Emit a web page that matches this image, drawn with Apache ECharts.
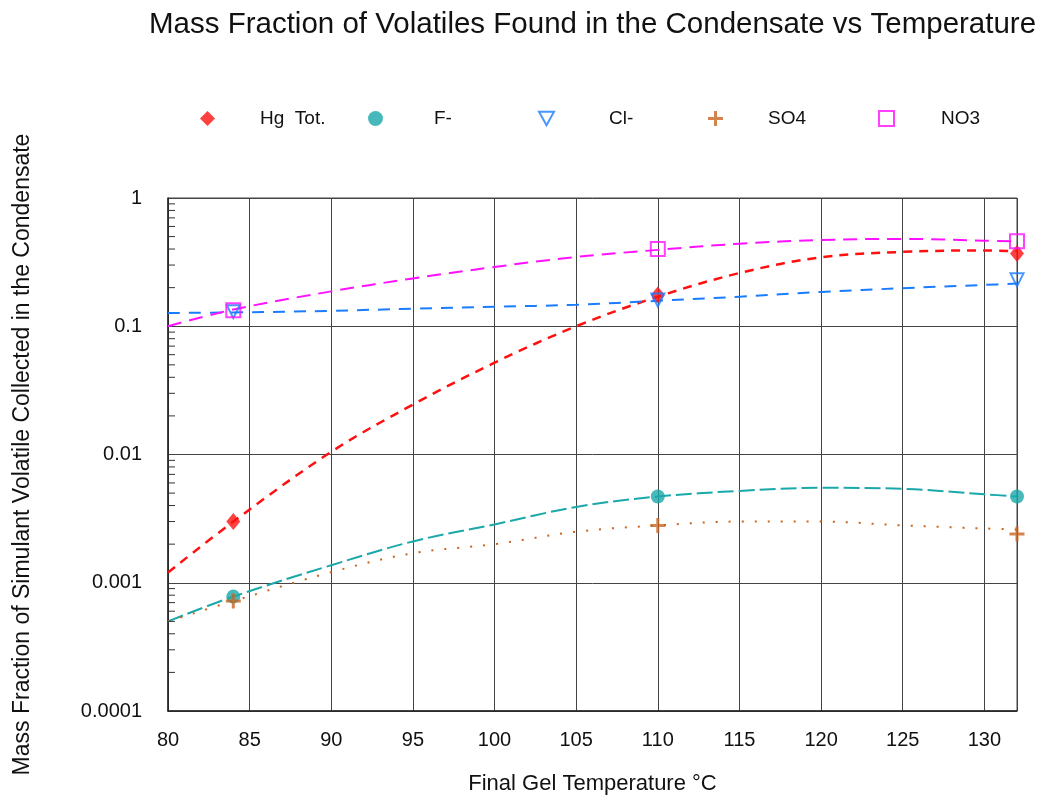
<!DOCTYPE html>
<html>
<head>
<meta charset="utf-8">
<title>Mass Fraction of Volatiles Found in the Condensate vs Temperature</title>
<script src="https://cdn.jsdelivr.net/npm/echarts@6/dist/echarts.min.js"></script>
<style>
  html, body { margin: 0; padding: 0; background: #ffffff; }
  #chart { width: 1041px; height: 800px; }
</style>
</head>
<body>
<div id="chart"></div>
<script>
// Measured points (final gel temperature °C, mass fraction)
const hgPoints  = [[84, 0.003],   [110, 0.175],  [132, 0.37]];
const fPoints   = [[84, 0.00078], [110, 0.0047], [132, 0.0047]];
const clPoints  = [[84, 0.13],    [110, 0.16],   [132, 0.23]];
const so4Points = [[84, 0.00072], [110, 0.0028], [132, 0.0024]];
const no3Points = [[84, 0.133],   [110, 0.40],   [132, 0.46]];

// Fitted trend curves, sampled along the temperature range
const fitTemps = [80, 84, 90, 95, 100, 105, 110, 115, 120, 125, 130, 132];
const hgFit  = [0.0012, 0.003, 0.0105, 0.0245, 0.052, 0.1, 0.17, 0.26, 0.345, 0.38, 0.39, 0.385];
const fFit   = [0.0005, 0.00078, 0.00137, 0.0021, 0.00285, 0.0039, 0.0047, 0.0052, 0.0055, 0.0054, 0.0049, 0.0047];
const clFit  = [0.127, 0.128, 0.132, 0.137, 0.142, 0.147, 0.158, 0.17, 0.185, 0.198, 0.21, 0.215];
const so4Fit = [0.0005, 0.00072, 0.00121, 0.0017, 0.002, 0.0025, 0.0028, 0.003, 0.003, 0.0028, 0.00265, 0.0026];
const no3Fit = [0.1, 0.135, 0.187, 0.236, 0.29, 0.347, 0.394, 0.44, 0.47, 0.48, 0.465, 0.46];

// Log-axis minor tick positions (2..9 within each decade)
const minorTickValues = [];
[0.0001, 0.001, 0.01, 0.1].forEach(function (d) {
  for (let k = 2; k <= 9; k++) minorTickValues.push(+(d * k).toPrecision(3));
});

const FONT = 'Liberation Sans';
const colors = {
  hg: '#ff1010',
  f: '#1aa8aa',
  cl: '#1a7cff',
  so4: '#c8641e',
  no3: '#ff10ff'
};

const plusPath = 'path://M4,0H6V4H10V6H6V10H4V6H0V4H4Z';
const downTriangle = 'path://M0,0L10,0L5,9Z';

function pair(xs, ys) { return xs.map(function (x, i) { return [x, ys[i]]; }); }

function fitSeries(name, values, color, dash, width) {
  return {
    name: name,
    type: 'line',
    data: pair(fitTemps, values),
    smooth: 0.35,
    showSymbol: false,
    silent: true,
    lineStyle: { color: color, width: width, type: dash },
    z: 2
  };
}

function legendAt(name, left, textPad) {
  return {
    data: [name],
    left: left,
    top: 104,
    itemWidth: 15,
    itemHeight: 15,
    textStyle: { fontFamily: FONT, fontSize: 19, color: '#111', padding: [0, 0, 0, textPad] },
    selectedMode: false
  };
}

const chart = echarts.init(document.getElementById('chart'), null, { renderer: 'canvas' });

chart.setOption({
  backgroundColor: '#ffffff',
  animation: false,
  title: {
    text: 'Mass Fraction of Volatiles Found in the Condensate vs Temperature',
    left: 144,
    top: 5,
    textStyle: { fontFamily: FONT, fontSize: 29.5, fontWeight: 'normal', color: '#111' }
  },
  legend: [
    legendAt('Hg  Tot.', 195, 40),
    legendAt('F-', 363, 46),
    legendAt('Cl-', 533, 50),
    legendAt('SO4', 703, 40),
    legendAt('NO3', 873, 42)
  ],
  grid: {
    left: 168,
    right: 24,
    top: 198,
    bottom: 88,
    show: true,
    borderColor: '#444',
    borderWidth: 1
  },
  xAxis: {
    type: 'value',
    min: 80,
    max: 132,
    interval: 5,
    name: 'Final Gel Temperature °C',
    nameLocation: 'middle',
    nameGap: 62,
    nameTextStyle: { fontFamily: FONT, fontSize: 22, color: '#111' },
    axisLine: { lineStyle: { color: '#222', width: 1.5 } },
    axisTick: { show: false },
    axisLabel: { fontFamily: FONT, fontSize: 20, color: '#111', margin: 19, showMaxLabel: false },
    splitLine: { show: true, lineStyle: { color: '#444', width: 1 } }
  },
  yAxis: {
    type: 'log',
    logBase: 10,
    min: 0.0001,
    max: 1,
    name: 'Mass Fraction of Simulant Volatile Collected in the Condensate',
    nameLocation: 'middle',
    nameGap: 134,
    nameTextStyle: { fontFamily: FONT, fontSize: 23, color: '#111' },
    axisLine: { lineStyle: { color: '#222', width: 1.5 } },
    axisTick: { show: false },
    axisLabel: {
      fontFamily: FONT, fontSize: 20, color: '#111', margin: 26,
      formatter: function (v) { return String(+v.toPrecision(3)); }
    },
    splitLine: { show: true, lineStyle: { color: '#444', width: 1 } }
  },
  series: [
    fitSeries('Hg fit', hgFit, colors.hg, [9, 7], 2.5),
    fitSeries('F fit', fFit, colors.f, [16, 5], 2),
    fitSeries('Cl fit', clFit, colors.cl, [12, 9], 2),
    fitSeries('SO4 fit', so4Fit, colors.so4, [2, 11], 2),
    fitSeries('NO3 fit', no3Fit, colors.no3, [14, 8], 2),
    {
      name: 'Hg  Tot.', type: 'scatter', data: hgPoints,
      symbol: 'diamond', symbolSize: [14, 17],
      itemStyle: { color: colors.hg }, z: 5
    },
    {
      name: 'F-', type: 'scatter', data: fPoints,
      symbol: 'circle', symbolSize: 14,
      itemStyle: { color: colors.f }, z: 5
    },
    {
      name: 'Cl-', type: 'scatter', data: clPoints,
      symbol: downTriangle, symbolSize: 13,
      itemStyle: { color: 'rgba(255,255,255,0)', borderColor: colors.cl, borderWidth: 2 }, z: 5
    },
    {
      name: 'SO4', type: 'scatter', data: so4Points,
      symbol: plusPath, symbolSize: 15,
      itemStyle: { color: colors.so4 }, z: 5
    },
    {
      name: 'NO3', type: 'scatter', data: no3Points,
      symbol: 'rect', symbolSize: 14,
      itemStyle: { color: 'rgba(255,255,255,0)', borderColor: colors.no3, borderWidth: 2 }, z: 6
    },
    {
      name: 'minor ticks',
      type: 'custom',
      silent: true,
      data: minorTickValues.map(function (v) { return [80, v]; }),
      renderItem: function (params, api) {
        const p = api.coord([api.value(0), api.value(1)]);
        return {
          type: 'line',
          shape: { x1: p[0], y1: p[1], x2: p[0] + 7, y2: p[1] },
          style: { stroke: '#333', lineWidth: 1 }
        };
      },
      z: 4
    }
  ]
});
</script>
</body>
</html>
